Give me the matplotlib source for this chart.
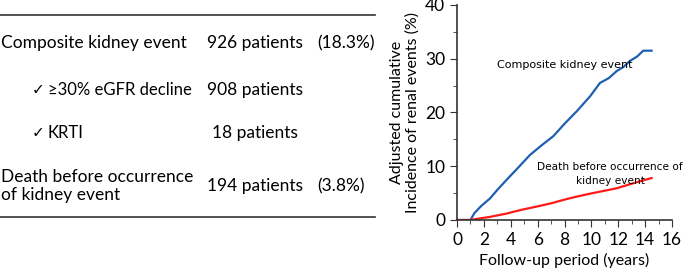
import matplotlib
matplotlib.use("Agg")
import matplotlib.pyplot as plt
from matplotlib.ticker import MultipleLocator

# Curve data (years, %)
comp_x = [0, 1.0, 1.3, 1.8, 2.45, 3.0, 3.7, 4.5, 5.43, 6.3, 7.17, 8.0, 8.9, 9.9, 10.64, 11.3, 11.88, 12.4, 12.87, 13.4, 13.86, 14.48]
comp_y = [0, 0, 1.3, 2.6, 4.0, 5.6, 7.5, 9.6, 12.1, 13.9, 15.6, 17.9, 20.2, 23.0, 25.5, 26.4, 27.7, 28.5, 29.6, 30.4, 31.5, 31.5]
death_x = [0, 1.0, 1.2, 2.5, 3.7, 4.8, 5.93, 7.0, 8.16, 9.0, 9.9, 10.9, 11.88, 12.8, 13.6, 14.48]
death_y = [0, 0, 0.1, 0.6, 1.2, 1.9, 2.5, 3.1, 3.9, 4.4, 4.9, 5.4, 5.9, 6.6, 7.2, 7.8]

rows = ["Composite kidney event", "\u226530% eGFR decline", "KRTI",
        "Death before occurrence\nof kidney event"]
checked = [False, True, True, False]
counts = ["926 patients", "908 patients", "18 patients", "194 patients"]
pcts = ["(18.3%)", "", "", "(3.8%)"]

plt.rcParams["font.family"] = ["Lato", "DejaVu Sans"]

fig = plt.figure(figsize=(6.85, 2.75), dpi=100)

# left: table
tab = fig.add_axes([0, 0, 1, 1])
tab.set_xlim(0, 685)
tab.set_ylim(275, 0)
tab.axis("off")
tab.plot([0, 375], [15, 15], color="#333333", lw=1.2)
tab.plot([0, 375], [217, 217], color="#333333", lw=1.2)
row_y = [43, 90, 133, 186]
count_x = [207, 207, 212, 207]
for i in range(4):
    if checked[i]:
        tab.text(32, row_y[i], "\u2713", fontsize=11, family=["DejaVu Sans"], va="center", ha="left")
        tab.text(48, row_y[i], rows[i], fontsize=12, va="center", ha="left")
    else:
        tab.text(1, row_y[i], rows[i], fontsize=12.5, va="center", ha="left", linespacing=1.15)
    tab.text(count_x[i], row_y[i], counts[i], fontsize=12.5, va="center", ha="left")
    if pcts[i]:
        tab.text(317, row_y[i], pcts[i], fontsize=12.5, va="center", ha="left")

# right: cumulative incidence plot
ax = fig.add_axes([457 / 685, 55 / 275, 215 / 685, 215 / 275])
ax.plot(comp_x, comp_y, color="#1f5fb0", lw=1.6)
ax.plot(death_x, death_y, color="#ff1a1a", lw=1.6)
ax.set_xlim(0, 16)
ax.set_ylim(0, 40)
ax.xaxis.set_major_locator(MultipleLocator(2))
ax.xaxis.set_minor_locator(MultipleLocator(1))
ax.yaxis.set_major_locator(MultipleLocator(10))
ax.yaxis.set_minor_locator(MultipleLocator(5))
ax.spines["top"].set_visible(False)
ax.spines["right"].set_visible(False)
for s in ["left", "bottom"]:
    ax.spines[s].set_color("#333333")
    ax.spines[s].set_linewidth(1.2)
ax.tick_params(which="major", length=5, labelsize=12.5, color="#333333")
ax.tick_params(which="minor", length=3, color="#333333")
ax.set_xlabel("Follow-up period (years)", fontsize=11.5)
ax.set_ylabel("Adjusted cumulative\nIncidence of renal events (%)", fontsize=11.5, linespacing=1.1)
ax.text(3.0, 28.9, "Composite kidney event", fontsize=8, family=["DejaVu Sans"], va="center")
ax.text(11.4, 9.9, "Death before occurrence of", fontsize=7.6, family=["DejaVu Sans"],
        va="center", ha="center", clip_on=False)
ax.text(11.4, 7.2, "kidney event", fontsize=7.6, family=["DejaVu Sans"],
        va="center", ha="center", clip_on=False)

fig.savefig("out.png", dpi=100)
